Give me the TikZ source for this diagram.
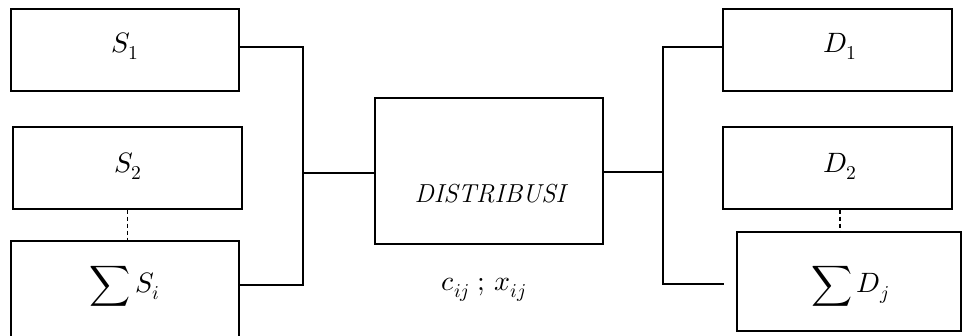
\documentclass[tikz,border=0pt]{standalone}
\usepackage{fontspec}
\usepackage{unicode-math}
\usepackage{graphicx}
\newcommand{\bigsum}{\vcenter{\hbox{\scalebox{1.02}{$\displaystyle\sum$}}}}
\begin{document}
\begin{tikzpicture}[x=1pt,y=-1pt,
  box/.style={draw, line width=1.4pt, inner sep=0pt},
  wire/.style={line width=1.4pt},
  dots/.style={line width=1.4pt, dash pattern=on 4pt off 3pt},
  lbl/.style={font=\fontsize{28}{32}\selectfont}]
\useasboundingbox (0,0) rectangle (962,336);

% supply side
\node[box, minimum width=228pt, minimum height=82pt]  (s1) at (125,50) {};
\node[box, minimum width=229pt, minimum height=82pt]  (s2) at (127.5,168) {};
\node[box, minimum width=228pt, minimum height=106pt] (si) at (125,294) {};

% central process
\node[box, minimum width=228pt, minimum height=146pt] (dist) at (489,171) {};

% demand side
\node[box, minimum width=229pt, minimum height=82pt] (d1) at (837.5,50) {};
\node[box, minimum width=229pt, minimum height=82pt] (d2) at (837.5,168) {};
\node[box, minimum width=224pt, minimum height=99pt] (dj) at (849,281.5) {};

% labels
\node[lbl] (ts1) at (125,46) {$S_1$};
\node[lbl] (ts2) at (128,166) {$S_2$};
\node[lbl] (tsi) at (125,286) {$\bigsum\, S_i$};
\node[lbl] (td1) at (840,46) {$D_1$};
\node[lbl] (td2) at (840,166) {$D_2$};
\node[lbl] (tdj) at (850,286) {$\bigsum\, D_j$};
\node[font=\fontsize{26}{30}\selectfont\itshape] (tdist) at (490,194) {DISTRIBUSI};
\node[lbl] (tcx) at (484,290) {$c_{ij}\;;\,x_{ij}$};

% joints
\coordinate (jl) at (303,173);
\coordinate (jr) at (663,172);
\coordinate (tip) at (724,284);

% connectors
\draw[wire] ([yshift=3pt]s1.east) -| (jl) |- ([yshift=9pt]si.east);
\draw[wire] (jl) -- (dist.west |- jl);
\draw[wire] (dist.east |- jr) -- (jr);
\draw[wire] ([yshift=3pt]d1.west) -| (jr) |- (tip);
\draw[dots] (s2.south) -- (s2.south |- si.north);
\draw[dots] ([xshift=2.5pt]d2.south) -- ([xshift=2.5pt]d2.south |- dj.north);
\end{tikzpicture}
\end{document}
